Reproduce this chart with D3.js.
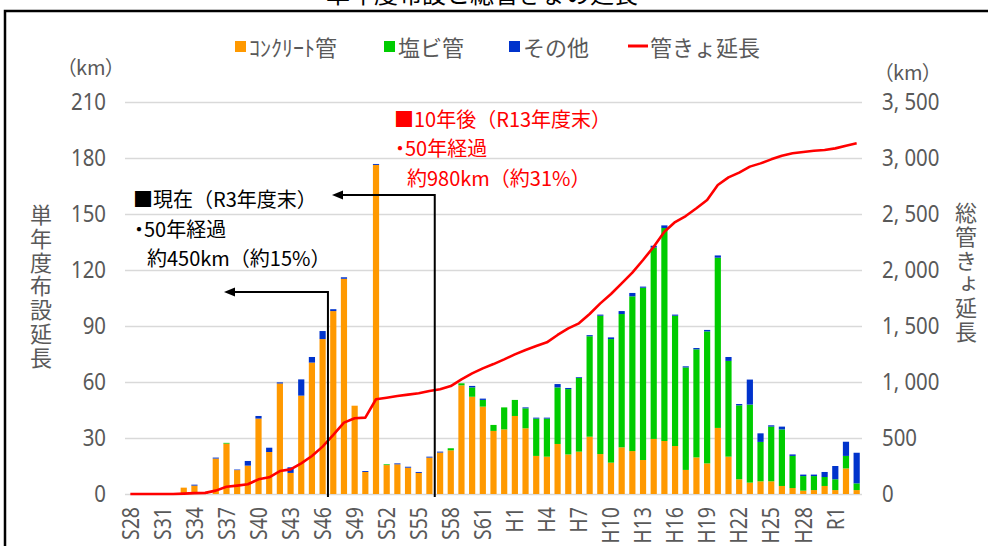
<!DOCTYPE html>
<html>
<head>
<meta charset="utf-8">
<script src="https://cdn.jsdelivr.net/npm/d3@7"></script>
<style>
body { margin: 0; background: #fff; }
svg { display: block; font-family: "Noto Sans CJK JP", "Noto Sans", sans-serif; }
</style>
</head>
<body>
<script>
// fiscal years S28 (1953) .. R3 (2021)
const categories = [
  "S28","S29","S30","S31","S32","S33","S34","S35","S36","S37",
  "S38","S39","S40","S41","S42","S43","S44","S45","S46","S47",
  "S48","S49","S50","S51","S52","S53","S54","S55","S56","S57",
  "S58","S59","S60","S61","S62","S63",
  "H1","H2","H3","H4","H5","H6","H7","H8","H9","H10",
  "H11","H12","H13","H14","H15","H16","H17","H18","H19","H20",
  "H21","H22","H23","H24","H25","H26","H27","H28","H29","H30",
  "R1","R2","R3"
];

// single-year laid length (km)
const concrete = [
  0,0,0,0,0,3.4,4.5,0.5,19,27,
  12.8,15.2,40.4,22.5,59.2,11.3,52.7,70.4,83,98,
  115.3,47.3,11.8,176.3,15.5,15.9,14.1,11.3,19.5,22.2,
  23.4,58.2,52.1,46.8,33.8,34.6,
  41.8,35.2,20.4,20,26.8,21.2,22.7,30.7,21.4,16.8,
  25,23,18.2,29.5,28.4,25.7,12.9,19.6,16.4,35.4,
  20,7.9,6.1,6.8,6.8,4.3,3.2,1.8,2.1,4.3,
  2.1,13.7,2.1
];
const pvc = [
  0,0,0,0,0,0,0,0,0,0.4,
  0,0,0,0,0,0,0,0,0,0,
  0,0,0,0,0.4,0,0,0,0,0,
  1.1,1.1,5,3.6,3.2,11.8,
  8.6,10.7,20,20.4,30.3,35,39.5,53.8,74.1,66.2,
  71.4,82.9,92.3,102.5,114.1,69.8,54.9,57.9,70.7,91.2,
  51.3,39.6,41.8,21.1,29.3,30.3,17.2,7.8,7.5,4.8,
  5.8,6.7,3.6
];
const other = [
  0,0,0,0,0,0,0.5,0,0.5,0,
  0.3,2.5,1.4,2.3,0.6,3,8.7,3,4.3,1,
  0.8,0,0.5,0.5,0,0.5,0.5,0.5,0.5,0.5,
  0,0,0.8,0.7,0,0,
  0,0.5,0.5,0.5,1.8,0.6,0.4,0.6,0.6,0.9,
  1.6,1.8,0.6,1,1.4,0.6,0.6,0.7,0.8,1.2,
  2.1,0.7,13.4,4.6,0.7,1.5,0.8,0.8,0.8,2.7,
  7.1,7.6,16.4
];
// cumulative sewer length (km, right axis)
const totalLength = [
  0,0,0,0,0,3,8,10,30,65,
  75,87,131,149,205,220,274,339,423,527,
  637,676,682,846,860,875,887,899,920,935,
  964,1024,1077,1122,1160,1202,
  1247,1286,1321,1354,1420,1479,1524,1607,1702,1786,
  1881,1976,2089,2208,2342,2428,2482,2551,2625,2759,
  2827,2869,2923,2952,2988,3021,3042,3054,3065,3071,
  3086,3110,3131
];

const leftTicks = [0, 30, 60, 90, 120, 150, 180, 210];
const rightTicks = [0, 500, 1000, 1500, 2000, 2500, 3000, 3500];
const xTickLabels = ["S28","S31","S34","S37","S40","S43","S46","S49","S52","S55","S58","S61",
  "H1","H4","H7","H10","H13","H16","H19","H22","H25","H28","R1"];

const seriesKeys = ["concrete", "pvc", "other"];
const seriesNames = ["ｺﾝｸﾘｰﾄ管", "塩ビ管", "その他"];
const lineName = "管きょ延長";
const colors = { concrete: "#FF9900", pvc: "#00CC00", other: "#0033CC" };
const lineColor = "#FF0000";
const textGray = "#595959";

const width = 988, height = 546;
const plotLeft = 125, plotRight = 862, plotTop = 102, plotBottom = 494;

const svg = d3.select("body").append("svg")
    .attr("width", width)
    .attr("height", height);

const x = d3.scaleBand().domain(categories).range([plotLeft, plotRight])
    .paddingInner(0.42).paddingOuter(0.21);
const yL = d3.scaleLinear().domain([0, 210]).range([plotBottom, plotTop]);
const yR = d3.scaleLinear().domain([0, 3500]).range([plotBottom, plotTop]);

// outer frame
svg.append("rect")
    .attr("x", 5).attr("y", 11).attr("width", 1000).attr("height", 600)
    .attr("fill", "none").attr("stroke", "#000").attr("stroke-width", 2.5);

// title (cut off at the top like the source)
svg.append("text")
    .attr("x", 482).attr("y", -8)
    .attr("text-anchor", "middle").attr("dominant-baseline", "central")
    .attr("font-size", 24).attr("fill", "#000")
    .text("単年度布設と総管きょの延長");

// grid
svg.append("g")
    .attr("transform", `translate(${plotLeft},0)`)
    .call(d3.axisLeft(yL).tickValues(leftTicks).tickSize(-(plotRight - plotLeft)).tickFormat(""))
    .call(g => g.select(".domain").remove())
    .call(g => g.selectAll("line").attr("stroke", "#d9d9d9").attr("stroke-width", 1.3));

// condensed tick text helper
const sx = 0.85;
function styleTicks(g, size, anchor) {
  g.select(".domain").remove();
  g.selectAll("line").remove();
  g.selectAll("text")
    .attr("font-size", size)
    .attr("fill", textGray)
    .attr("text-anchor", anchor)
    .attr("font-family", "'Noto Sans', sans-serif")
    .attr("x", 0)
    .attr("transform", `scale(${sx},1)`);
}

svg.append("g")
    .attr("transform", "translate(106,0)")
    .call(d3.axisLeft(yL).tickValues(leftTicks).tickSize(0).tickPadding(0))
    .call(g => styleTicks(g, 24, "end"));

svg.append("g")
    .attr("transform", "translate(882,0)")
    .call(d3.axisRight(yR).tickValues(rightTicks).tickSize(0).tickPadding(0)
      .tickFormat(d => d3.format(",")(d).replace(",", ", ")))
    .call(g => styleTicks(g, 24, "start"));

svg.append("g")
    .attr("transform", `translate(0,${plotBottom})`)
    .call(d3.axisBottom(x).tickValues(xTickLabels).tickSize(0))
    .call(g => {
      g.select(".domain").remove();
      g.selectAll("text")
        .attr("font-size", 23)
        .attr("fill", textGray)
        .attr("font-family", "'Noto Sans', sans-serif")
        .attr("text-anchor", "end")
        .attr("x", -13 / sx).attr("y", 0).attr("dy", "0.36em")
        .attr("transform", `rotate(-90) scale(${sx},1)`);
    });

// stacked bars
const rows = categories.map((c, i) => ({
  cat: c, concrete: concrete[i], pvc: pvc[i], other: other[i]
}));
const stacked = d3.stack().keys(seriesKeys)(rows);

svg.append("g").selectAll("g")
  .data(stacked)
  .join("g")
    .attr("fill", d => colors[d.key])
  .selectAll("rect")
  .data(d => d)
  .join("rect")
    .attr("x", d => x(d.data.cat))
    .attr("width", x.bandwidth())
    .attr("y", d => yL(d[1]))
    .attr("height", d => yL(d[0]) - yL(d[1]));

// cumulative line
const line = d3.line()
    .x((d, i) => x(categories[i]) + x.bandwidth() / 2)
    .y(d => yR(d));

svg.append("path")
    .datum(totalLength)
    .attr("fill", "none")
    .attr("stroke", lineColor)
    .attr("stroke-width", 2.6)
    .attr("stroke-linejoin", "round")
    .attr("d", line);

// arrows for the "50 years" annotations
svg.append("defs").append("marker")
    .attr("id", "arr")
    .attr("markerUnits", "userSpaceOnUse")
    .attr("markerWidth", 12).attr("markerHeight", 10)
    .attr("refX", 1).attr("refY", 4.5)
    .attr("orient", "auto")
  .append("path")
    .attr("d", "M0,0 L11,4.5 L0,9 Z")
    .attr("fill", "#000");

const gap = (x.step() - x.bandwidth()) / 2;
const bx1 = x("S47") - gap;
const bx2 = x("S57") - gap;

svg.append("path")
    .attr("d", `M${bx1},497 V292 H234`)
    .attr("fill", "none").attr("stroke", "#000").attr("stroke-width", 2)
    .attr("marker-end", "url(#arr)");
svg.append("path")
    .attr("d", `M${bx2},497 V195 H342`)
    .attr("fill", "none").attr("stroke", "#000").attr("stroke-width", 2)
    .attr("marker-end", "url(#arr)");

function note(lines, color) {
  svg.append("g").selectAll("text")
    .data(lines)
    .join("text")
      .attr("x", d => d.x).attr("y", d => d.y)
      .attr("dominant-baseline", "central")
      .attr("font-size", 20)
      .attr("fill", color)
      .style("font-feature-settings", d => d.t.startsWith("・") ? "'palt' 1" : null)
      .text(d => d.t);
}
note([
  { t: "■現在（R3年度末）", x: 133, y: 198 },
  { t: "・50年経過", x: 134, y: 228 },
  { t: "約450km（約15%）", x: 147, y: 257 }
], "#000");
note([
  { t: "■10年後（R13年度末）", x: 394, y: 118 },
  { t: "・50年経過", x: 395, y: 147 },
  { t: "約980km（約31%）", x: 407, y: 177 }
], "#FF0000");

// axis units
svg.append("text")
    .attr("x", 66).attr("y", 66).attr("dominant-baseline", "central")
    .attr("font-size", 20).attr("fill", textGray)
    .style("font-feature-settings", "'palt' 1")
    .text("（km）");
svg.append("text")
    .attr("x", 883).attr("y", 71).attr("dominant-baseline", "central")
    .attr("font-size", 20).attr("fill", textGray)
    .style("font-feature-settings", "'palt' 1")
    .text("（km）");

// vertical axis titles
function verticalTitle(str, cx, cy) {
  svg.append("text")
      .attr("x", cx).attr("y", cy)
      .attr("text-anchor", "middle")
      .style("writing-mode", "vertical-rl")
      .style("letter-spacing", "1.8px")
      .attr("font-size", 22).attr("fill", textGray)
      .text(str);
}
verticalTitle("単年度布設延長", 41, 287);
verticalTitle("総管きょ延長", 966, 273);

// legend
const legend = svg.append("g");
const legendX = [235, 384, 509];
seriesKeys.forEach((k, i) => {
  legend.append("rect")
    .attr("x", legendX[i]).attr("y", 41).attr("width", 11).attr("height", 11)
    .attr("fill", colors[k]);
  legend.append("text")
    .attr("x", legendX[i] + 14).attr("y", 46).attr("dominant-baseline", "central")
    .attr("font-size", 22).attr("fill", textGray)
    .text(seriesNames[i]);
});
legend.append("line")
    .attr("x1", 628).attr("x2", 648).attr("y1", 46).attr("y2", 46)
    .attr("stroke", lineColor).attr("stroke-width", 3);
legend.append("text")
    .attr("x", 650).attr("y", 46).attr("dominant-baseline", "central")
    .attr("font-size", 22).attr("fill", textGray)
    .text(lineName);
</script>
</body>
</html>
